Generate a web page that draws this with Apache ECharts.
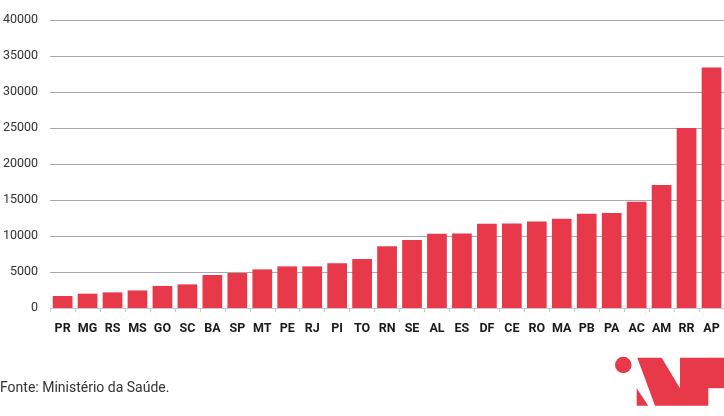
<!DOCTYPE html>
<html>
<head>
<meta charset="utf-8">
<script src="https://cdn.jsdelivr.net/npm/echarts@6/dist/echarts.min.js"></script>
<style>html,body{margin:0;padding:0;background:#fff;}#c{width:724px;height:416px;}</style>
</head>
<body>
<div id="c"></div>
<script>
const categories = ['PR','MG','RS','MS','GO','SC','BA','SP','MT','PE','RJ','PI','TO','RN','SE','AL','ES','DF','CE','RO','MA','PB','PA','AC','AM','RR','AP'];
const values = [1670,1990,2170,2440,3060,3280,4580,4860,5360,5780,5780,6200,6800,8560,9440,10320,10360,11710,11750,12030,12400,13100,13190,14760,17080,25000,33420];
const yTicks = [0,5000,10000,15000,20000,25000,30000,35000,40000];
const sourceText = 'Fonte: Ministério da Saúde.';

const red = '#e8394a';
const chart = echarts.init(document.getElementById('c'));
chart.setOption({
  animation: false,
  backgroundColor: '#fff',
  grid: {left: 47, top: 20, width: 680, height: 288, containLabel: false},
  xAxis: {
    type: 'category',
    data: categories,
    axisLine: {show: true, lineStyle: {color: '#c8c8c8', width: 1}},
    axisTick: {show: true, length: 4, lineStyle: {color: '#c8c8c8'}},
    axisLabel: {color: '#1a1a1a', fontFamily: 'Roboto', fontWeight: 'bold', fontSize: 12.5, margin: 14, interval: 0}
  },
  yAxis: {
    type: 'value',
    min: yTicks[0],
    max: yTicks[yTicks.length - 1],
    interval: yTicks[1] - yTicks[0],
    axisLine: {show: false},
    axisTick: {show: false},
    splitLine: {show: true, lineStyle: {color: '#a8a8a8', width: 1}},
    axisLabel: {color: '#333', fontFamily: 'Roboto', fontSize: 12.5, margin: 12, formatter: function (v) { return String(v); }}
  },
  series: [{
    type: 'bar',
    data: values,
    barCategoryGap: '21%',
    itemStyle: {color: red}
  }],
  graphic: [
    {type: 'text', left: 0, top: 381, style: {text: sourceText, fill: '#333', font: '14px Roboto'}},
    {type: 'circle', shape: {cx: 623.3, cy: 365, r: 8.3}, style: {fill: red}},
    {type: 'polygon', shape: {points: [[637.3,357.7],[661.7,357.7],[680,388.3],[680,357.7],[708.3,357.7],[708.3,405.7],[655,405.7]]}, style: {fill: red}},
    {type: 'polygon', shape: {points: [[636.7,388.3],[636.7,405.7],[648.3,405.7]]}, style: {fill: red}},
    {type: 'rect', shape: {x: 708, y: 357.7, width: 30, height: 30.5}, style: {fill: red}}
  ]
});
</script>
</body>
</html>
